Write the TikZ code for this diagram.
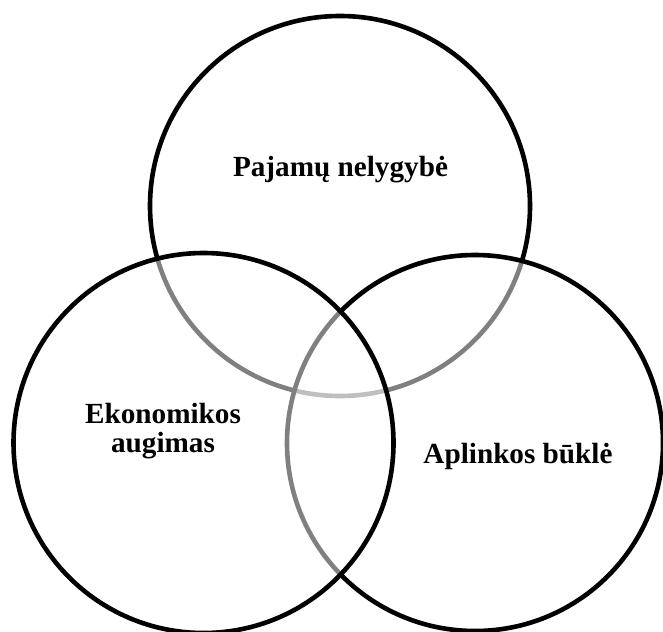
\documentclass[tikz,border=0pt]{standalone}
\usepackage{fontspec}
\setmainfont{Liberation Serif}
\usepackage{tikz}

\begin{document}
\begin{tikzpicture}[x=1pt, y=-1pt, line width=4.6pt,
    venn/.style={draw=black, fill=white, fill opacity=0.5},
    label/.style={font=\fontsize{29.2}{29}\selectfont\bfseries, align=center, inner sep=0pt}]
    \useasboundingbox (0,0) rectangle (663,631);
    \draw[venn] (340,206) circle (190);
    \draw[venn] (475,443) circle (188);
    \draw[venn] (203.5,443) circle (190);
    \node[label, anchor=base] (pajamos) at (340.5,176) {Pajamų nelygybė};
    \node[label, anchor=base] (augimas) at (163,452) {Ekonomikos\\augimas};
    \node[label, anchor=base] (aplinka) at (518,463) {Aplinkos būklė};
\end{tikzpicture}
\end{document}
